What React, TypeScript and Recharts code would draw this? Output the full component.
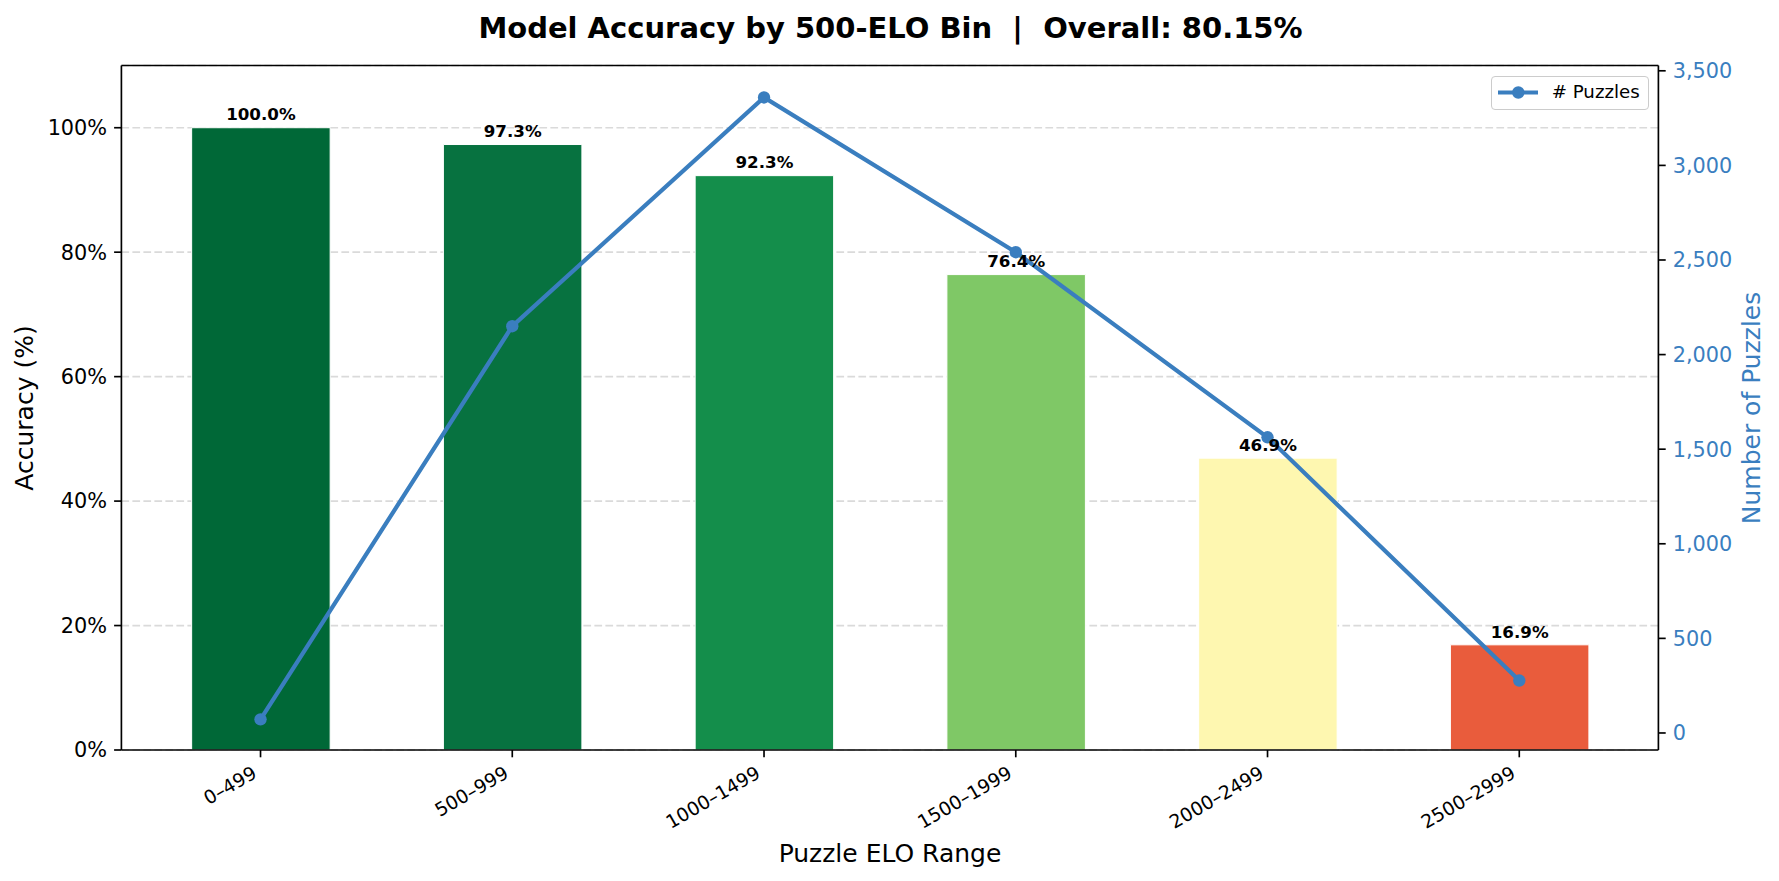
import React from "react";
import {
  ComposedChart, Bar, Line, XAxis, YAxis, CartesianGrid, Cell,
  LabelList, Legend, ReferenceLine
} from "recharts";

const bins = ["0–499", "500–999", "1000–1499", "1500–1999", "2000–2499", "2500–2999"];
const accuracy = [100.0, 97.3, 92.3, 76.4, 46.9, 16.9];
const puzzles = [72, 2150, 3359, 2541, 1563, 277];
const barColors = ["#006837", "#077240", "#148e4b", "#7fc866", "#fef7b0", "#e95c3c"];
const accTicks = [0, 20, 40, 60, 80, 100];
const countTicks = [0, 500, 1000, 1500, 2000, 2500, 3000, 3500];

const BLUE = "#3a7ebf";
const FONT = "DejaVu Sans, sans-serif";

const data = bins.map((bin, i) => ({ bin, accuracy: accuracy[i], puzzles: puzzles[i] }));

const XTick = ({ x, y, payload }: any) => (
  <g transform={`translate(${x - 2.5},${y + 12.5}) rotate(-30)`}>
    <text x={0} y={0} textAnchor="end" fontSize={18.75} fill="#000" fontFamily={FONT}>
      {payload.value}
    </text>
  </g>
);

const BarLabel = ({ x, y, width, value }: any) => (
  <text
    x={x + width / 2}
    y={y - 7.3}
    textAnchor="middle"
    fontSize={16.7}
    fontWeight="bold"
    fill="#000"
    fontFamily={FONT}
  >
    {Number(value).toFixed(1)}%
  </text>
);

const LegendBox = () => (
  <div
    style={{
      width: 158, height: 34, boxSizing: "border-box", border: "1.5px solid #cccccc",
      borderRadius: 4, background: "rgba(255,255,255,0.8)", position: "relative",
      fontFamily: FONT, fontSize: 18.2, color: "#000",
    }}
  >
    <svg width={60} height={32} style={{ position: "absolute", left: 0, top: 0 }}>
      <line x1={6} y1={15.5} x2={46} y2={15.5} stroke={BLUE} strokeWidth={4.2} />
      <circle cx={26.3} cy={15.5} r={6.2} fill={BLUE} />
    </svg>
    <span style={{ position: "absolute", left: 60, top: 4.5, whiteSpace: "nowrap" }}># Puzzles</span>
  </div>
);

export default function App() {
  return (
    <div style={{ position: "absolute", left: 0, top: 0, width: 1779, height: 881, background: "#fff" }}>
      <ComposedChart
        width={1779}
        height={881}
        data={data}
        margin={{ top: 65.5, right: 0, bottom: 0, left: 0 }}
        style={{ fontFamily: FONT }}
      >
        <CartesianGrid
          yAxisId="left"
          vertical={false}
          stroke="#dadada"
          strokeWidth={1.7}
          strokeDasharray="7.7 3.3"
        />
        <XAxis
          dataKey="bin"
          height={131}
          padding={{ left: 13.25, right: 13.25 }}
          tick={<XTick />}
          tickSize={7.3}
          tickMargin={7}
          interval={0}
          axisLine={{ stroke: "#000", strokeWidth: 1.67 }}
          tickLine={{ stroke: "#000", strokeWidth: 1.67 }}
        />
        <YAxis
          yAxisId="left"
          orientation="left"
          width={121.4}
          domain={[0, 110]}
          ticks={accTicks}
          tickFormatter={(v) => `${v}%`}
          tick={{ fill: "#000", fontSize: 20.8, fontFamily: FONT }}
          tickSize={7.3}
          tickMargin={7}
          axisLine={{ stroke: "#000", strokeWidth: 1.67 }}
          tickLine={{ stroke: "#000", strokeWidth: 1.67 }}
        />
        <YAxis
          yAxisId="right"
          orientation="right"
          width={120.6}
          domain={[-90, 3528]}
          ticks={countTicks}
          tickFormatter={(v) => Number(v).toLocaleString("en-US")}
          tick={{ fill: BLUE, fontSize: 20.8, fontFamily: FONT }}
          tickSize={7.3}
          tickMargin={7}
          axisLine={{ stroke: "#000", strokeWidth: 1.67 }}
          tickLine={{ stroke: "#000", strokeWidth: 1.67 }}
        />
        <ReferenceLine yAxisId="left" y={110} stroke="#000" strokeWidth={1.67} />
        <Bar
          yAxisId="left"
          dataKey="accuracy"
          barSize={138.5}
          stroke="#ffffff"
          strokeWidth={1}
          isAnimationActive={false}
        >
          {data.map((_, i) => (
            <Cell key={i} fill={barColors[i]} />
          ))}
          <LabelList dataKey="accuracy" content={<BarLabel />} />
        </Bar>
        <Line
          yAxisId="right"
          type="linear"
          dataKey="puzzles"
          stroke={BLUE}
          strokeWidth={4.2}
          dot={{ r: 6.2, fill: BLUE, stroke: "none" }}
          activeDot={false}
          isAnimationActive={false}
        />
        <Legend
          layout="vertical"
          align="center"
          verticalAlign="middle"
          content={<LegendBox />}
          wrapperStyle={{ position: "absolute", left: 1490.7, top: 75.7, width: 158, height: 34 }}
        />
      </ComposedChart>
      <svg
        width={1779}
        height={881}
        style={{ position: "absolute", left: 0, top: 0, pointerEvents: "none" }}
        fontFamily={FONT}
      >
        <text
          x={890.5}
          y={37.5}
          textAnchor="middle"
          fontSize={29}
          fontWeight="bold"
          fill="#000"
          style={{ whiteSpace: "pre" }}
        >
          {"Model Accuracy by 500-ELO Bin  |  Overall: 80.15%"}
        </text>
        <text x={890} y={862} textAnchor="middle" fontSize={25} fill="#000">
          Puzzle ELO Range
        </text>
        <text
          x={0}
          y={0}
          transform="translate(33,408) rotate(-90)"
          textAnchor="middle"
          fontSize={25}
          fill="#000"
        >
          Accuracy (%)
        </text>
        <text
          x={0}
          y={0}
          transform="translate(1760,408) rotate(-90)"
          textAnchor="middle"
          fontSize={25}
          fill={BLUE}
        >
          Number of Puzzles
        </text>
      </svg>
    </div>
  );
}
